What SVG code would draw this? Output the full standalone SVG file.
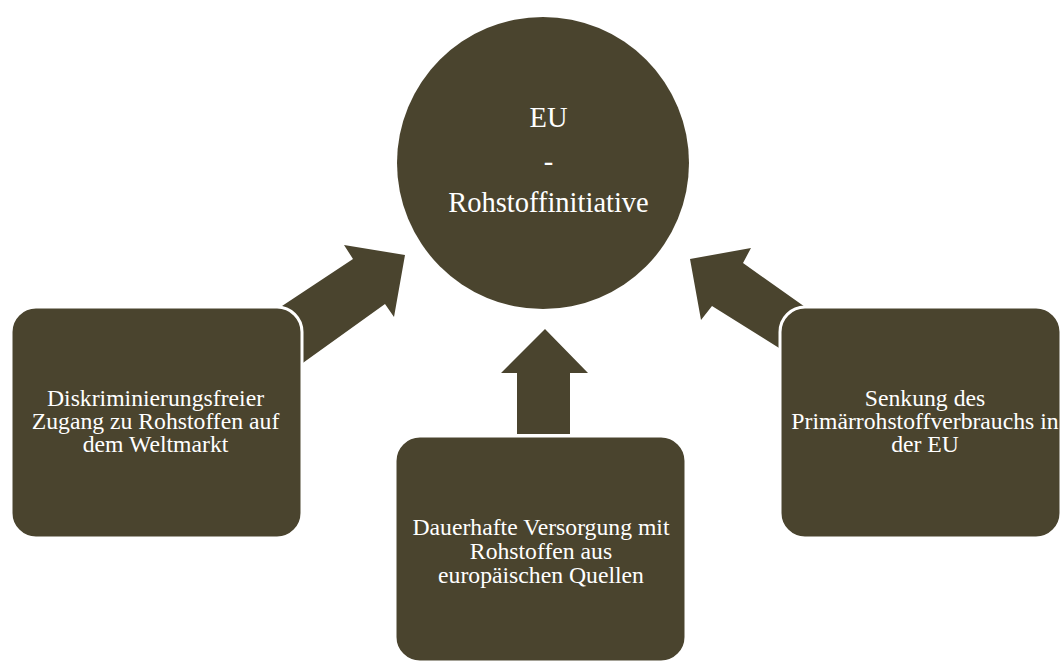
<svg xmlns="http://www.w3.org/2000/svg" width="1061" height="662" viewBox="0 0 1061 662">
<style>
.fill{fill:#4A442E}
.box{fill:#4A442E;stroke:#ffffff;stroke-width:3}
.t{font-family:"Liberation Serif","Times New Roman",serif;fill:#ffffff;text-anchor:middle;font-size:23.7px}
.c{font-size:28.5px}
</style>
<rect width="1061" height="662" fill="#ffffff"/>
<g id="connectors">
<polygon class="fill" points="300,365 282,306 353,259 344,245 405,255 394,317 385,304"/>
<polygon class="fill" points="545,329 588,373 570,373 570,434 517,434 517,373 501,373"/>
<polygon class="fill" points="690,259 751,248 743,263 815,314 795,358 712,306 701,320"/>
</g>
<g id="center">
<circle class="fill" cx="543" cy="163" r="146"/>
<text class="t c" x="548.5" y="127">EU</text>
<text class="t c" x="548.5" y="171">-</text>
<text class="t c" x="548.5" y="212">Rohstoffinitiative</text>
</g>
<g id="left">
<rect class="box" x="11" y="307" width="291" height="231" rx="25"/>
<text class="t" x="155.5" y="406">Diskriminierungsfreier</text>
<text class="t" x="155.5" y="429">Zugang zu Rohstoffen auf</text>
<text class="t" x="155.5" y="452">dem Weltmarkt</text>
</g>
<g id="right">
<rect class="box" x="780" y="307" width="281" height="231" rx="25"/>
<text class="t" x="925" y="406">Senkung des</text>
<text class="t" x="925" y="429">Primärrohstoffverbrauchs in</text>
<text class="t" x="925" y="452">der EU</text>
</g>
<g id="bottom">
<rect class="box" x="395" y="436" width="291" height="226" rx="25"/>
<text class="t" x="541" y="535">Dauerhafte Versorgung mit</text>
<text class="t" x="541" y="559">Rohstoffen aus</text>
<text class="t" x="541" y="583">europäischen Quellen</text>
</g>
</svg>
